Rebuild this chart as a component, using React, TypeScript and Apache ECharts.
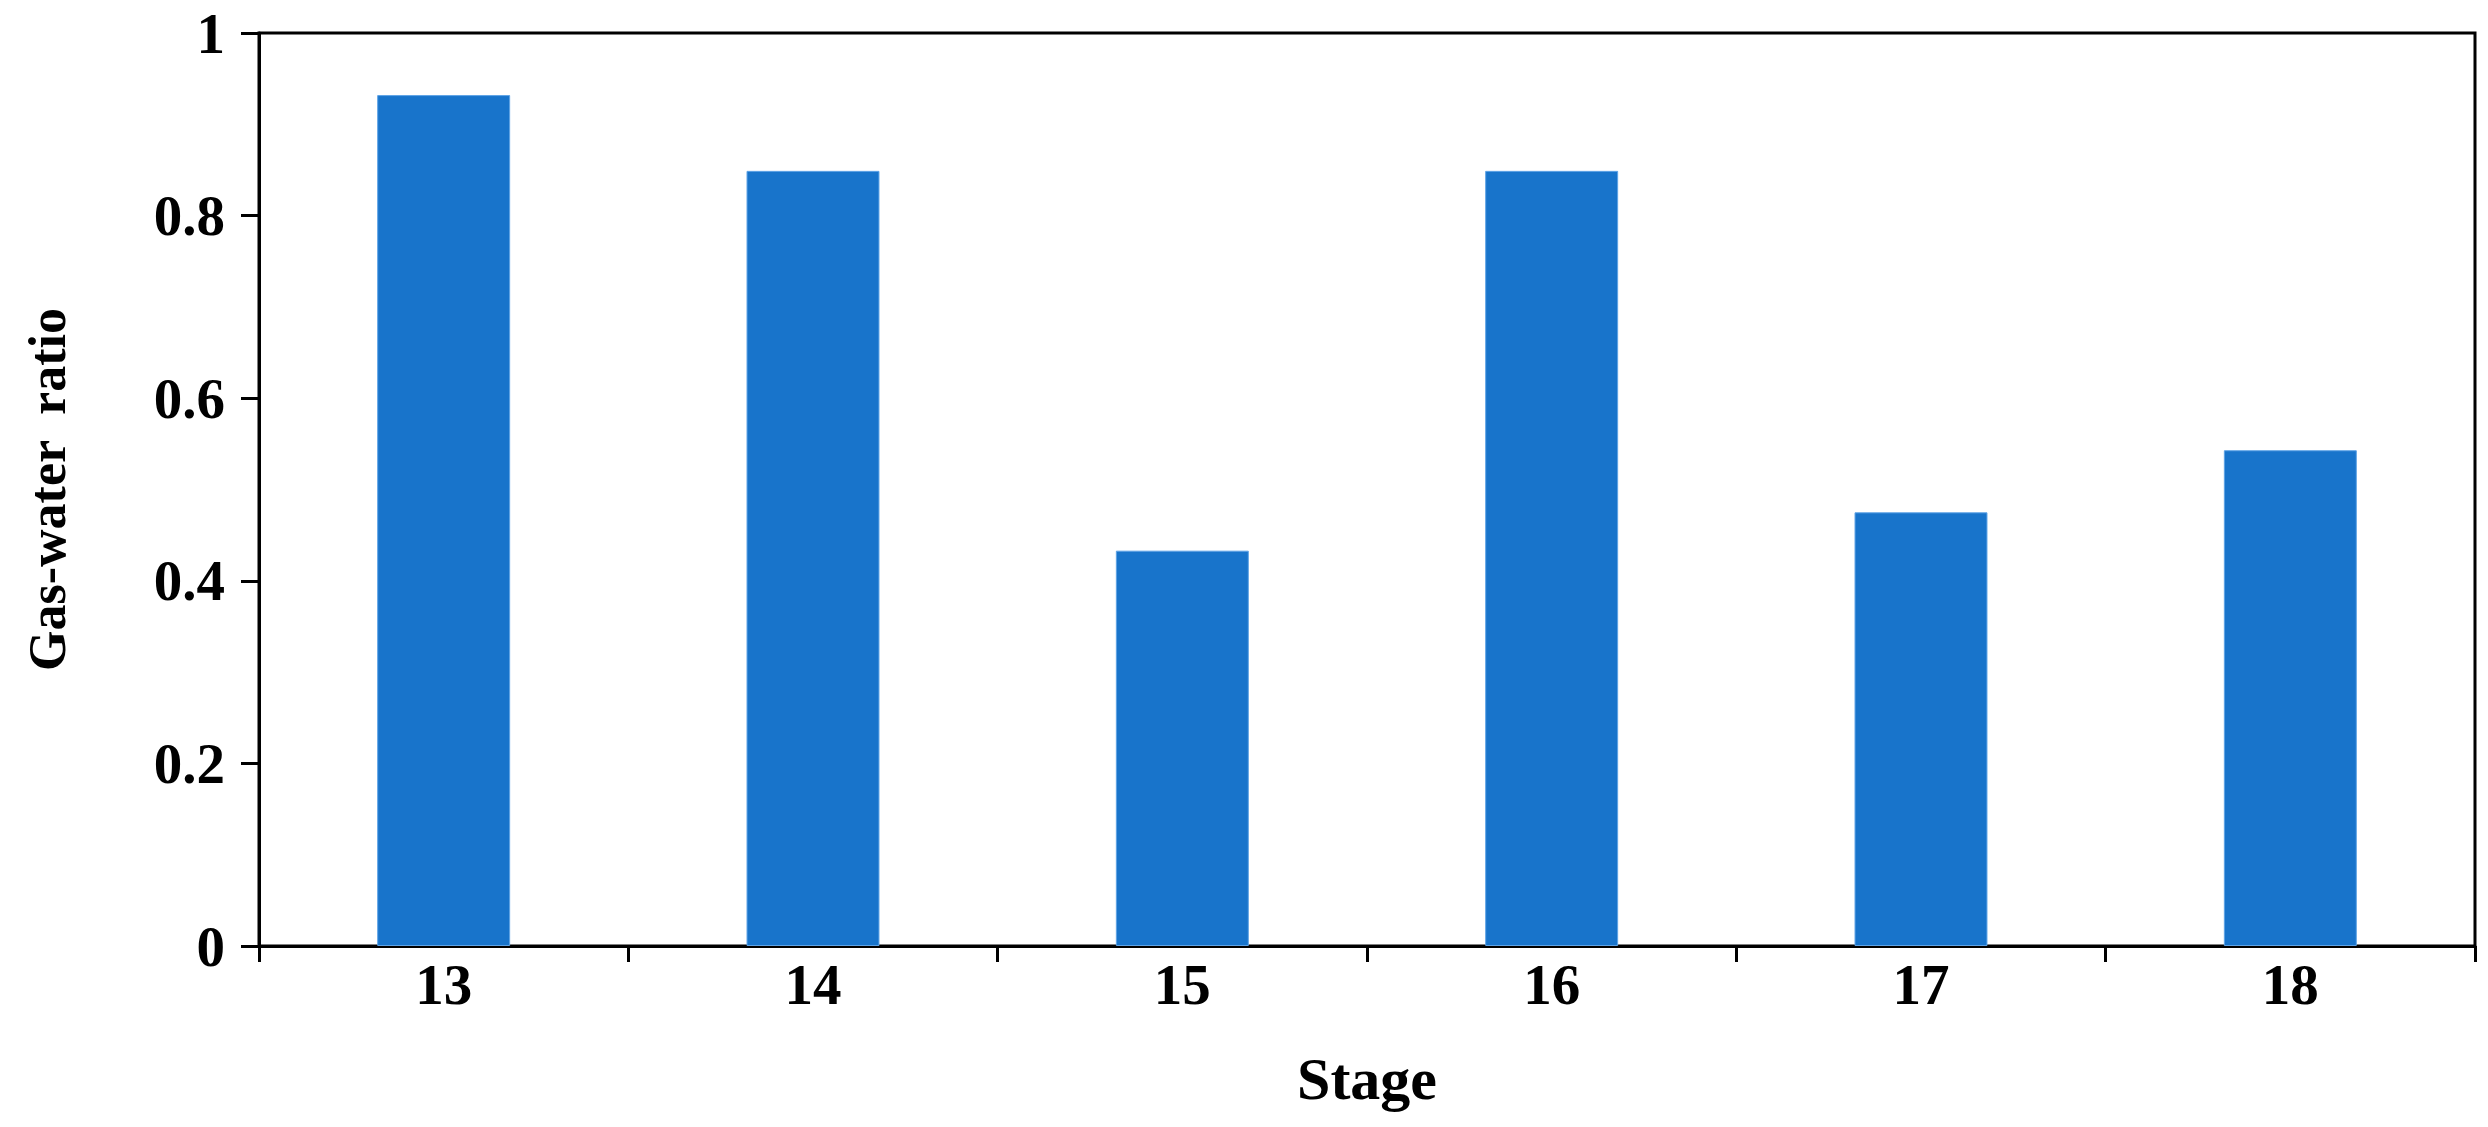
import React, { useEffect, useRef } from "react";
import * as echarts from "echarts";

const stages = ["13", "14", "15", "16", "17", "18"];
const gasWaterRatio = [0.932, 0.849, 0.433, 0.849, 0.475, 0.543];
const yTicks = { min: 0, max: 1, interval: 0.2 };

const FONT = '"Liberation Serif", "Times New Roman", serif';

export default function App() {
  const ref = useRef<HTMLDivElement>(null);
  useEffect(() => {
    if (!ref.current) return;
    const chart = echarts.init(ref.current, undefined, { renderer: "svg" });
    chart.setOption({
      animation: false,
      backgroundColor: "#ffffff",
      grid: {
        left: 259,
        right: 13,
        top: 33,
        bottom: 181,
        show: true,
        borderColor: "#000000",
        borderWidth: 3,
        containLabel: false,
      },
      xAxis: {
        type: "category",
        data: stages,
        boundaryGap: true,
        name: "Stage",
        nameLocation: "middle",
        nameGap: 103,
        nameTextStyle: { fontFamily: FONT, fontWeight: "bold", fontSize: 60, color: "#000" },
        axisLine: { show: true, lineStyle: { color: "#000", width: 3 } },
        axisTick: { show: true, inside: false, length: 16, alignWithLabel: false, lineStyle: { color: "#000", width: 3 } },
        axisLabel: { fontFamily: FONT, fontWeight: "bold", fontSize: 57, color: "#000", margin: 10 },
        splitLine: { show: false },
      },
      yAxis: {
        type: "value",
        min: yTicks.min,
        max: yTicks.max,
        interval: yTicks.interval,
        name: "Gas-water  ratio",
        nameLocation: "middle",
        nameGap: 186,
        nameRotate: 90,
        nameTextStyle: { fontFamily: FONT, fontWeight: "bold", fontSize: 52, color: "#000" },
        axisLine: { show: true, lineStyle: { color: "#000", width: 3 } },
        axisTick: { show: true, inside: false, length: 18, lineStyle: { color: "#000", width: 3 } },
        axisLabel: { fontFamily: FONT, fontWeight: "bold", fontSize: 57, color: "#000", margin: 34 },
        splitLine: { show: false },
      },
      series: [
        {
          type: "bar",
          data: gasWaterRatio,
          barWidth: "36%",
          itemStyle: { color: "#1874CB", borderColor: "#5EA3E6", borderWidth: 1 },
        },
      ],
    });
    return () => chart.dispose();
  }, []);
  return (
    <div
      ref={ref}
      style={{ position: "absolute", left: 0, top: 0, width: 2488, height: 1127 }}
    />
  );
}
